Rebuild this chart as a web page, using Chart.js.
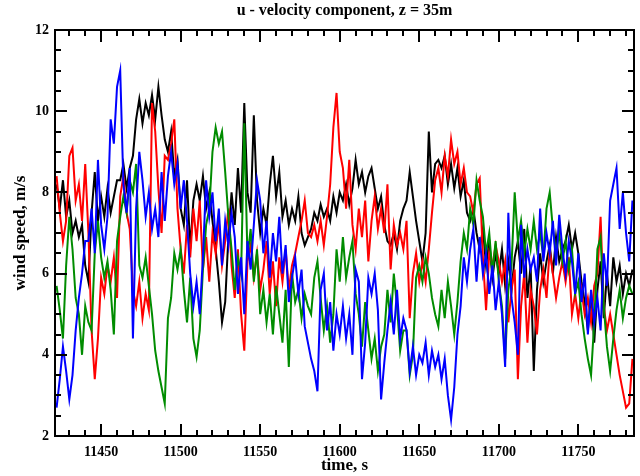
<!DOCTYPE html>
<html>
<head>
<meta charset="utf-8">
<title>u - velocity component, z = 35m</title>
<script src="https://cdn.jsdelivr.net/npm/chart.js@4.4.1/dist/chart.umd.min.js"></script>
<style>
  html, body { margin: 0; padding: 0; background: #fff; }
  #wrap { width: 640px; height: 476px; }
</style>
</head>
<body>
<div id="wrap"><canvas id="chart" width="640" height="476"></canvas></div>
<script>
// sample times, s (2 s spacing)
const times = [
  11422, 11424, 11426, 11428, 11430, 11432, 11434, 11436, 11438, 11440,
  11442, 11444, 11446, 11448, 11450, 11452, 11454, 11456, 11458, 11460,
  11462, 11464, 11466, 11468, 11470, 11472, 11474, 11476, 11478, 11480,
  11482, 11484, 11486, 11488, 11490, 11492, 11494, 11496, 11498, 11500,
  11502, 11504, 11506, 11508, 11510, 11512, 11514, 11516, 11518, 11520,
  11522, 11524, 11526, 11528, 11530, 11532, 11534, 11536, 11538, 11540,
  11542, 11544, 11546, 11548, 11550, 11552, 11554, 11556, 11558, 11560,
  11562, 11564, 11566, 11568, 11570, 11572, 11574, 11576, 11578, 11580,
  11582, 11584, 11586, 11588, 11590, 11592, 11594, 11596, 11598, 11600,
  11602, 11604, 11606, 11608, 11610, 11612, 11614, 11616, 11618, 11620,
  11622, 11624, 11626, 11628, 11630, 11632, 11634, 11636, 11638, 11640,
  11642, 11644, 11646, 11648, 11650, 11652, 11654, 11656, 11658, 11660,
  11662, 11664, 11666, 11668, 11670, 11672, 11674, 11676, 11678, 11680,
  11682, 11684, 11686, 11688, 11690, 11692, 11694, 11696, 11698, 11700,
  11702, 11704, 11706, 11708, 11710, 11712, 11714, 11716, 11718, 11720,
  11722, 11724, 11726, 11728, 11730, 11732, 11734, 11736, 11738, 11740,
  11742, 11744, 11746, 11748, 11750, 11752, 11754, 11756, 11758, 11760,
  11762, 11764, 11766, 11768, 11770, 11772, 11774, 11776, 11778, 11780,
  11782, 11784,
];

// wind speed, m/s
const uBlack = [
  8.2, 7.6, 8.3, 7.4, 7.8,  7.0, 7.3, 6.9, 7.2, 6.2,
  5.8, 7.5, 8.5, 7.3, 7.9,  7.4, 8.1, 7.5, 7.9, 8.3,
  8.3, 8.7, 8.1, 8.6, 8.9,  9.8, 10.3, 9.7, 10.2, 9.9,
  10.4, 9.8, 10.6, 9.9, 9.3,  9.0, 9.5, 8.4, 8.8, 7.6,
  7.2, 8.3, 6.6, 7.8, 8.2,  7.8, 8.4, 7.6, 8.0, 7.3,
  6.6, 5.8, 4.8, 5.3, 6.9,  8.0, 7.2, 8.6, 7.5, 10.2,
  8.0, 7.5, 9.9, 7.8, 7.0,  7.6, 7.2, 8.2, 8.9, 7.9,
  8.5, 7.4, 7.8, 7.2, 7.6,  7.3, 7.9, 7.0, 6.7, 6.9,
  7.1, 7.5, 7.3, 7.7, 7.4,  7.6, 7.3, 7.9, 7.5, 8.0,
  7.8, 8.2, 7.7, 8.1, 8.8,  8.2, 8.5, 8.0, 8.4, 8.6,
  8.1, 7.6, 7.9, 7.2, 6.8,  6.7, 7.0, 6.6, 7.3, 7.6,
  7.8, 8.5, 7.9, 7.3, 6.8,  6.3, 7.0, 9.5, 8.0, 8.7,
  8.8, 8.6, 8.9, 8.2, 8.7,  8.1, 8.6, 7.9, 8.3, 7.5,
  7.3, 7.6, 7.0, 6.6, 7.1,  6.2, 6.8, 5.9, 6.5, 6.0,
  6.6, 5.7, 6.3, 5.6, 6.4,  6.8, 6.0, 7.1, 5.4, 6.2,
  3.6, 5.6, 6.5, 5.8, 6.3,  6.7, 6.0, 6.9, 6.3, 6.6,
  6.8, 7.2, 6.6, 7.0, 6.5,  5.8, 5.3, 4.6, 5.5, 4.3,
  5.6, 6.3, 4.9, 6.0, 5.2,  6.4, 5.8, 6.2, 5.5, 6.0,
  5.7, 6.1,
];

const uRed = [
  8.4, 7.5, 6.8, 7.3, 8.9,  9.1, 7.8, 8.2, 7.3, 8.7,
  7.0, 4.6, 3.4, 4.4, 5.9,  5.5, 6.2, 5.8, 6.4, 5.4,
  7.9, 8.4, 7.5, 7.1, 5.6,  5.2, 5.8, 4.9, 5.5, 5.1,
  10.2, 9.5, 8.1, 7.0, 8.9,  8.8, 9.2, 9.8, 7.6, 6.6,
  6.0, 7.2, 6.4, 7.6, 6.8,  7.8, 6.1, 6.9, 5.8, 7.0,
  6.5, 7.3, 6.2, 6.8, 7.6,  6.2, 5.4, 6.6, 5.0, 4.1,
  6.3, 6.7, 5.9, 6.5, 5.6,  6.1, 6.8, 5.5, 6.3, 5.2,
  6.4, 5.8, 6.6, 5.6, 6.2,  6.5, 6.9, 7.3, 7.8, 7.0,
  6.9, 7.2, 6.8, 7.3, 6.7,  7.4, 8.2, 9.6, 10.45, 9.0,
  8.6, 7.6, 8.8, 7.2, 6.6,  7.6, 6.9, 7.8, 6.3, 7.3,
  7.9, 7.1, 7.6, 7.0, 8.2,  6.1, 7.2, 6.7, 7.0, 6.6,
  7.3, 4.9, 6.0, 6.5, 5.8,  6.3, 5.8, 6.6, 7.5, 8.3,
  8.6, 8.0, 8.9, 8.4, 9.3,  8.7, 9.0, 8.2, 8.6, 8.0,
  7.9, 7.5, 8.2, 8.35, 6.4,  5.1, 6.5, 6.2, 6.7, 6.3,
  5.8, 6.3, 4.8, 5.6, 6.1,  3.4, 5.2, 6.0, 4.3, 5.6,
  5.2, 4.5, 5.6, 6.1, 5.4,  6.6, 6.0, 5.4, 5.9, 6.3,
  5.8, 6.4, 5.0, 5.5, 4.9,  5.6, 5.0, 5.4, 4.8, 5.7,
  6.0, 7.4, 5.2, 4.6, 5.0,  4.5, 4.0, 3.5, 3.1, 2.7,
  2.8, 3.9,
];

const uGreen = [
  5.7, 5.1, 4.4, 6.2, 7.4,  6.6, 5.4, 5.0, 4.0, 5.2,
  4.8, 4.6, 6.5, 7.3, 6.4,  5.9, 6.3, 5.6, 4.5, 6.8,
  7.4, 7.9, 7.5, 8.3, 8.0,  8.7, 6.2, 5.9, 6.4, 5.7,
  5.0, 4.1, 3.6, 3.2, 2.8,  4.9, 5.4, 6.5, 6.1, 6.6,
  5.6, 4.8, 5.9, 4.4, 3.95,  4.6, 6.1, 7.2, 7.6, 9.0,
  9.6, 9.2, 9.5, 8.5, 7.4,  6.6, 5.6, 6.4, 6.0, 9.7,
  6.4, 7.1, 5.8, 6.6, 5.0,  5.6, 4.8, 5.5, 4.5, 5.7,
  5.0, 4.3, 5.6, 3.7, 6.0,  5.3, 5.6, 4.9, 5.5, 5.2,
  5.0, 5.9, 6.3, 5.4, 4.6,  5.2, 4.3, 5.0, 6.6, 5.8,
  6.9, 5.9, 6.4, 6.8, 5.5,  5.0, 4.2, 5.3, 4.6, 3.9,
  4.4, 3.6, 4.2, 4.5, 5.6,  4.8, 6.0, 5.2, 4.1, 4.6,
  4.6, 3.5, 4.0, 5.9, 6.2,  5.8, 6.4, 6.0, 5.4, 5.0,
  4.7, 5.6, 4.9, 5.8, 5.2,  4.5, 5.3, 6.3, 7.0, 6.6,
  7.6, 7.2, 8.3, 7.8, 7.4,  6.5, 7.0, 6.0, 6.8, 5.8,
  5.2, 3.9, 5.6, 6.2, 8.0,  6.8, 7.3, 6.5, 7.1, 6.6,
  7.3, 6.6, 7.0, 6.4, 7.6,  8.0, 7.1, 6.5, 7.0, 6.3,
  6.8, 6.1, 6.6, 5.5, 5.8,  5.0, 4.4, 3.9, 3.5, 4.8,
  6.6, 6.9, 5.2, 4.2, 3.6,  4.4, 5.1, 5.6, 4.9, 5.4,
  5.7, 5.5,
];

const uBlue = [
  2.7, 3.4, 4.2, 3.6, 2.9,  3.5, 4.6, 5.4, 6.0, 6.8,
  6.8, 7.6, 6.5, 8.8, 7.2,  6.6, 7.4, 9.8, 9.2, 10.6,
  11.0, 8.2, 7.5, 8.6, 4.4,  7.6, 9.0, 8.3, 7.4, 8.0,
  7.1, 7.6, 6.9, 8.5, 7.3,  8.4, 9.0, 8.2, 8.7, 7.6,
  8.3, 7.3, 6.0, 5.2, 5.8,  5.0, 6.4, 8.3, 7.4, 8.0,
  6.8, 7.6, 6.2, 7.3, 6.7,  7.5, 6.9, 5.5, 6.4, 5.0,
  6.8, 6.1, 7.2, 8.3, 7.8,  6.5, 7.3, 5.9, 7.0, 6.3,
  7.4, 6.0, 6.7, 5.3, 5.9,  6.4, 5.5, 6.1, 4.7, 4.3,
  3.9, 3.6, 3.1, 5.6, 6.0,  4.6, 5.3, 4.1, 5.0, 4.5,
  5.2, 4.4, 5.0, 4.0, 6.1,  5.8, 3.4, 4.3, 5.9, 5.5,
  6.0, 5.1, 2.9, 3.8, 4.6,  5.3, 4.5, 5.6, 4.4, 4.9,
  4.6, 3.6, 4.2, 3.5, 4.0,  3.8, 4.3, 3.5, 4.1, 3.7,
  4.0, 3.4, 3.9, 3.0, 2.4,  3.2, 4.5, 5.2, 6.4, 5.8,
  6.6, 7.1, 5.8, 6.9, 6.0,  6.5, 5.5, 6.2, 5.1, 5.8,
  5.0, 3.7, 7.5, 5.4, 4.8,  4.0, 7.2, 5.9, 6.6, 6.1,
  6.4, 5.8, 7.6, 6.3, 7.0,  6.5, 7.3, 6.2, 7.45, 6.6,
  6.0, 6.8, 6.3, 5.5, 6.5,  5.3, 6.0, 4.5, 5.6, 4.8,
  5.4, 4.6, 6.5, 5.7, 7.8,  8.2, 8.6, 7.1, 8.0, 7.0,
  6.3, 7.8,
];

const xMin = 11421;
const xMax = 11785;
const xLabelStep = 50;
const yLabelStep = 2;

const serifFamily = "'Liberation Serif', 'DejaVu Serif', serif";
const tickFont = { family: serifFamily, size: 14, weight: "bold" };
const titleFont = { family: serifFamily, size: 16, weight: "bold" };
const axisTitleFont = { family: serifFamily, size: 17, weight: "bold" };

function toPoints(values) {
  return values.map((v, i) => ({ x: times[i], y: v }));
}

function series(values, color, order) {
  return {
    data: toPoints(values),
    borderColor: color,
    borderWidth: 2,
    pointRadius: 0,
    tension: 0,
    order,
  };
}

// inward ticks on all four sides plus the box round the plot
const frameTicks = {
  id: "frameTicks",
  afterDatasetsDraw(chart) {
    const { ctx, chartArea: a, scales } = chart;
    const sx = scales.x;
    const sy = scales.y;
    ctx.save();
    ctx.strokeStyle = "#000";
    ctx.lineWidth = 2;
    ctx.beginPath();
    sx.ticks.forEach((t) => {
      const px = Math.round(sx.getPixelForValue(t.value));
      const len = Math.round(t.value) % xLabelStep === 0 ? 12 : 6;
      ctx.moveTo(px, a.bottom);
      ctx.lineTo(px, a.bottom - len);
      ctx.moveTo(px, a.top);
      ctx.lineTo(px, a.top + len);
    });
    sy.ticks.forEach((t) => {
      const py = Math.round(sy.getPixelForValue(t.value));
      const len = Math.abs(t.value % yLabelStep) < 1e-6 ? 12 : 6;
      ctx.moveTo(a.left, py);
      ctx.lineTo(a.left + len, py);
      ctx.moveTo(a.right, py);
      ctx.lineTo(a.right - len, py);
    });
    ctx.stroke();
    ctx.strokeRect(a.left, a.top, a.right - a.left, a.bottom - a.top);
    ctx.restore();
  },
};

new Chart(document.getElementById("chart"), {
  type: "line",
  data: {
    datasets: [
      series(uBlack, "#000000", 4),
      series(uRed, "#ff0000", 3),
      series(uGreen, "#008c00", 2),
      series(uBlue, "#0000ff", 1),
    ],
  },
  options: {
    responsive: false,
    animation: false,
    layout: { padding: { left: 0, right: 6, top: 0, bottom: 0 } },
    plugins: {
      legend: { display: false },
      tooltip: { enabled: false },
      title: {
        display: true,
        fullSize: false,
        text: "u - velocity component, z = 35m",
        color: "#000",
        font: titleFont,
        padding: { top: 1, bottom: 9.8 },
      },
    },
    scales: {
      x: {
        type: "linear",
        min: xMin,
        max: xMax,
        grid: { display: false, drawTicks: false },
        border: { display: false },
        ticks: {
          stepSize: 10,
          includeBounds: false,
          autoSkip: false,
          maxRotation: 0,
          padding: 8,
          color: "#000",
          font: tickFont,
          callback: (v) => (Math.round(v) % xLabelStep === 0 ? String(v) : ""),
        },
        title: { display: true, text: "time, s", color: "#000", font: axisTitleFont, padding: { top: 0, bottom: 0 } },
        afterFit: (s) => { s.height = 40; },
      },
      y: {
        min: 2,
        max: 12,
        grid: { display: false, drawTicks: false },
        border: { display: false },
        ticks: {
          stepSize: 0.5,
          autoSkip: false,
          padding: 6,
          color: "#000",
          font: tickFont,
          callback: (v) => (Math.abs(v % yLabelStep) < 1e-6 ? String(v) : ""),
        },
        title: { display: true, text: "wind speed, m/s", color: "#000", font: axisTitleFont, padding: { top: 10, bottom: 0 } },
        afterFit: (s) => { s.width = 55; },
      },
    },
  },
  plugins: [frameTicks],
});
</script>
</body>
</html>
